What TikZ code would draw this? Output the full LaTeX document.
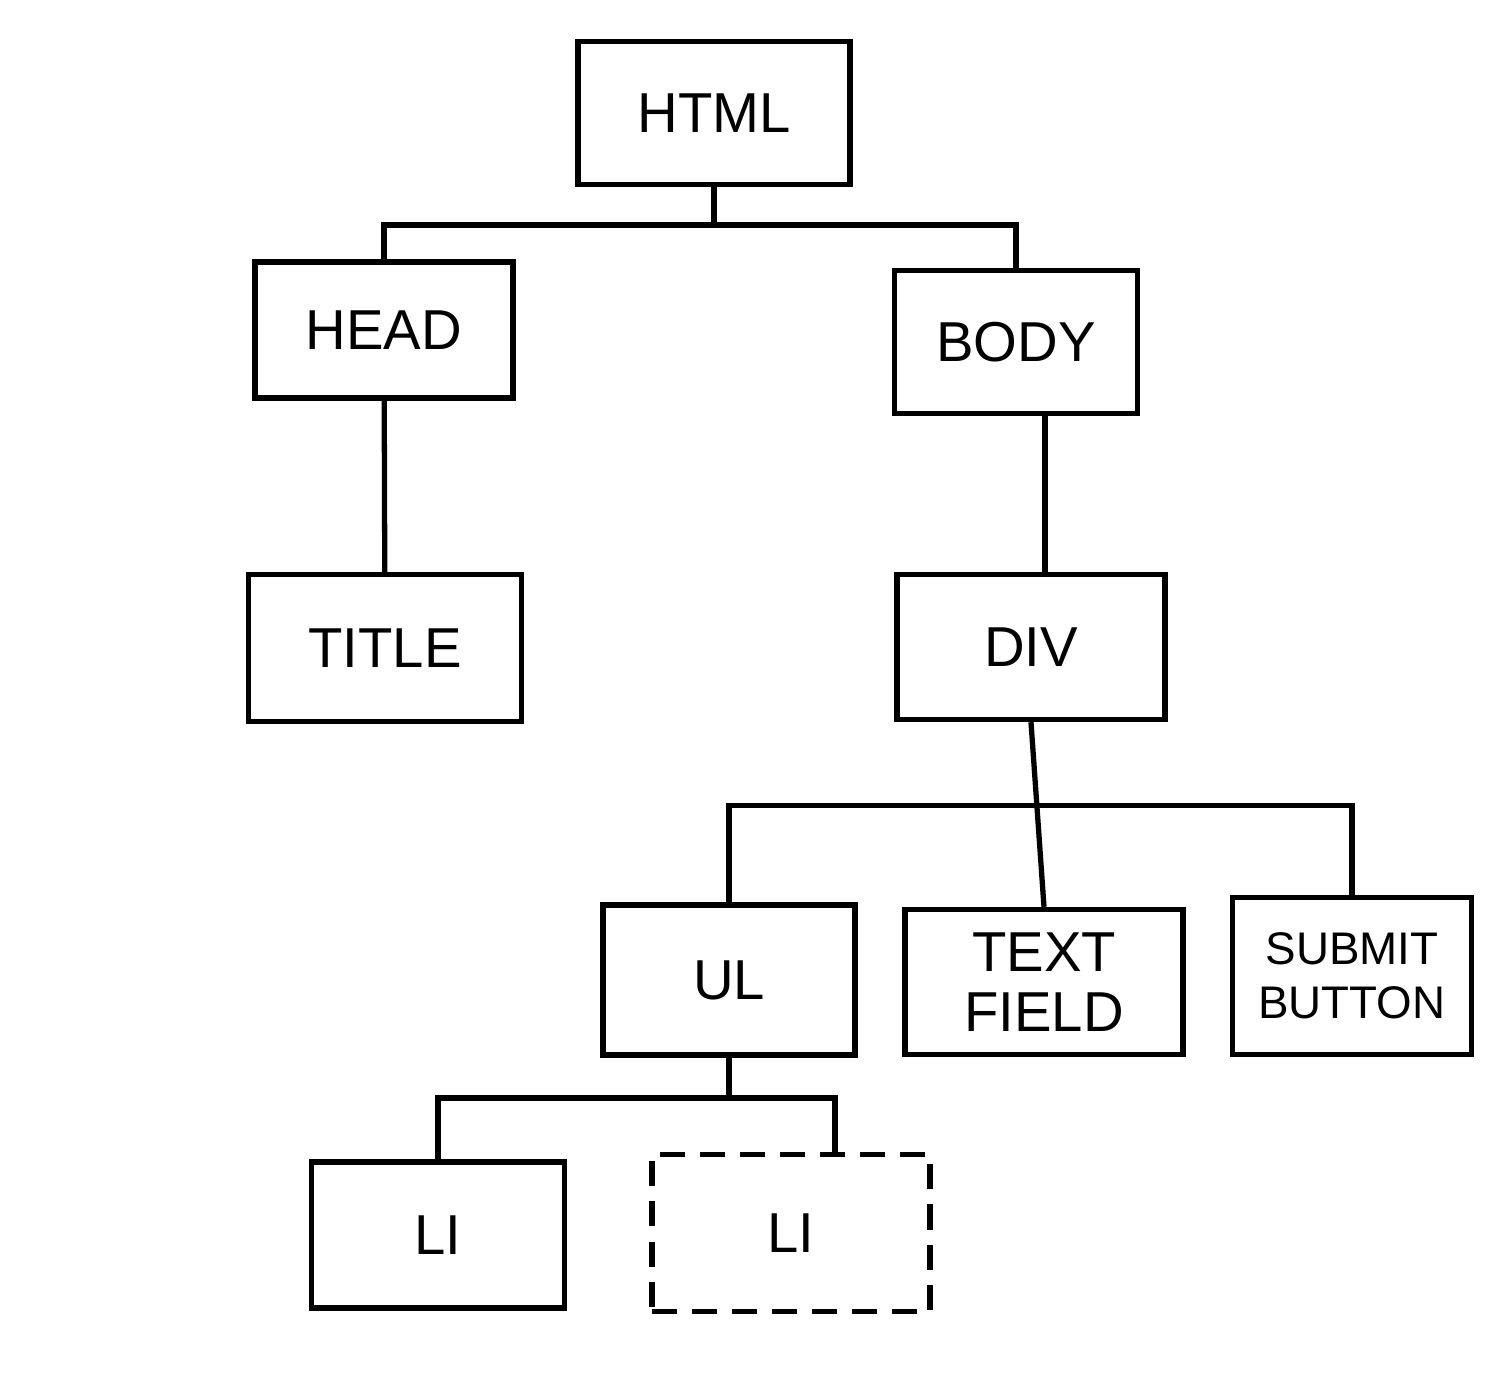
\documentclass[tikz,border=0pt]{standalone}
\usepackage{fontspec}
\setmainfont{Liberation Sans}
\usetikzlibrary{calc}

\begin{document}
\begin{tikzpicture}[x=0.01cm, y=-0.01cm, line width=1.5pt,
  every node/.style={draw, rectangle, line width=1.5pt, inner sep=0pt,
  align=center, font=\fontsize{16}{17}\selectfont},
  tagbox/.style={minimum width=#1},
  lidash/.style={dash pattern=on 2.5mm off 1.5mm}]
  \fill[white] (0,0) rectangle (1508,1379);
  % boxes
  \node[tagbox=2.72cm, minimum height=1.43cm] (html) at (714,113) {HTML};
  \node[tagbox=2.58cm, minimum height=1.36cm] (head) at (384,330) {HEAD};
  \node[tagbox=2.43cm, minimum height=1.43cm] (body) at (1016,342) {BODY};
  \node[tagbox=2.73cm, minimum height=1.47cm] (title) at (385,648) {TITLE};
  \node[tagbox=2.68cm, minimum height=1.45cm] (div) at (1031,647) {DIV};
  \node[tagbox=2.52cm, minimum height=1.50cm] (ul) at (729,980) {UL};
  \node[tagbox=2.78cm, minimum height=1.45cm] (textf) at (1044,982) {TEXT\\FIELD};
  \node[tagbox=2.39cm, minimum height=1.57cm,
    font=\fontsize{13}{15.5}\selectfont] (submit) at (1352,976) {SUBMIT\\BUTTON};
  \node[tagbox=2.53cm, minimum height=1.46cm] (li1) at (438,1235) {LI};
  \node[tagbox=2.78cm, minimum height=1.57cm, lidash] (li2) at (791,1233) {LI};
  % connectors
  \coordinate (hb) at (html.south |- 0,225);
  \draw (html.south) -- (hb);
  \draw (head.north) |- (hb) -| (body.north);
  \draw (head) -- (title);
  \coordinate (bd) at ([xshift=1.4mm]div.north);
  \draw (bd) -- (bd |- body.south);
  \draw (div.south) -- (textf.north);
  \coordinate (db) at ($(div.south)!0.45!(textf.north)$);
  \draw (ul.north) |- (db) -| (submit.north);
  \coordinate (ub) at (ul.south |- 0,1098);
  \draw (ul.south) -- (ub);
  \draw (li1.north) |- (ub) -| ([xshift=4.4mm]li2.north);
\end{tikzpicture}
\end{document}
